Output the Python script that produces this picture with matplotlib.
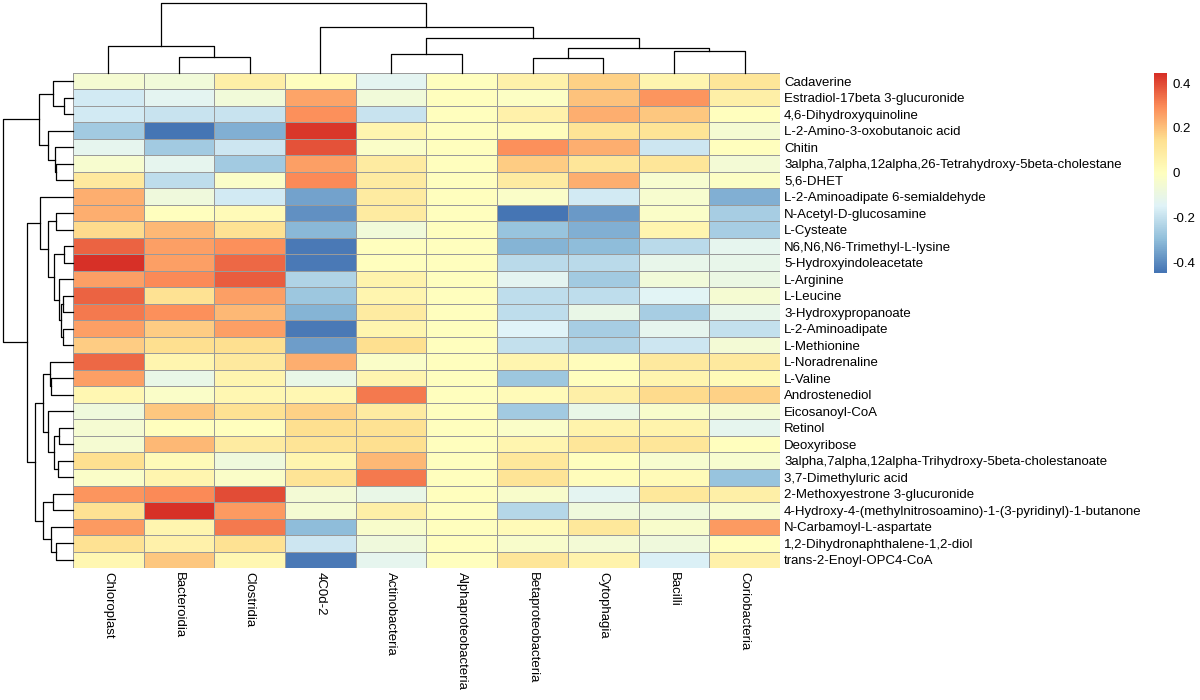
#!/usr/bin/env python3

import numpy as np
import matplotlib
matplotlib.use("Agg")
import matplotlib.pyplot as plt
from matplotlib.colors import LinearSegmentedColormap


# ============================================================
# DATA
# ============================================================
taxa = [
    "Chloroplast", "Bacteroidia", "Clostridia", "4C0d-2", "Actinobacteria",
    "Alphaproteobacteria", "Betaproteobacteria", "Cytophagia", "Bacilli",
    "Coriobacteria",
]

metabolites = [
    "Cadaverine",
    "Estradiol-17beta 3-glucuronide",
    "4,6-Dihydroxyquinoline",
    "L-2-Amino-3-oxobutanoic acid",
    "Chitin",
    "3alpha,7alpha,12alpha,26-Tetrahydroxy-5beta-cholestane",
    "5,6-DHET",
    "L-2-Aminoadipate 6-semialdehyde",
    "N-Acetyl-D-glucosamine",
    "L-Cysteate",
    "N6,N6,N6-Trimethyl-L-lysine",
    "5-Hydroxyindoleacetate",
    "L-Arginine",
    "L-Leucine",
    "3-Hydroxypropanoate",
    "L-2-Aminoadipate",
    "L-Methionine",
    "L-Noradrenaline",
    "L-Valine",
    "Androstenediol",
    "Eicosanoyl-CoA",
    "Retinol",
    "Deoxyribose",
    "3alpha,7alpha,12alpha-Trihydroxy-5beta-cholestanoate",
    "3,7-Dimethyluric acid",
    "2-Methoxyestrone 3-glucuronide",
    "4-Hydroxy-4-(methylnitrosoamino)-1-(3-pyridinyl)-1-butanone",
    "N-Carbamoyl-L-aspartate",
    "1,2-Dihydronaphthalene-1,2-diol",
    "trans-2-Enoyl-OPC4-CoA",
]

# correlation values, one row per metabolite, columns in taxa order
corr = [
    [-0.05, -0.07, 0.08, 0.00, -0.13, 0.00, 0.07, 0.17, 0.05, 0.12],
    [-0.17, -0.13, -0.07, 0.25, -0.07, 0.00, -0.01, 0.20, 0.28, 0.08],
    [-0.17, -0.19, -0.19, 0.29, -0.19, 0.00, 0.07, 0.24, 0.19, 0.00],
    [-0.26, -0.44, -0.33, 0.43, 0.05, 0.00, 0.01, 0.13, 0.13, -0.05],
    [-0.12, -0.26, -0.18, 0.39, -0.02, 0.00, 0.29, 0.24, -0.18, 0.00],
    [-0.04, -0.12, -0.26, 0.26, 0.09, 0.00, 0.18, 0.12, 0.12, -0.06],
    [0.10, -0.21, -0.02, 0.30, 0.09, 0.00, 0.09, 0.24, -0.04, -0.01],
    [0.24, -0.08, -0.17, -0.35, 0.09, 0.00, -0.02, -0.17, -0.04, -0.33],
    [0.24, 0.00, 0.02, -0.39, 0.09, 0.00, -0.44, -0.37, -0.02, -0.25],
    [0.16, 0.22, 0.14, -0.31, -0.07, 0.00, -0.28, -0.33, 0.05, -0.25],
    [0.36, 0.26, 0.29, -0.43, 0.00, 0.00, -0.32, -0.30, -0.22, -0.12],
    [0.445, 0.26, 0.35, -0.43, 0.00, 0.00, -0.22, -0.22, -0.11, -0.11],
    [0.26, 0.30, 0.37, -0.24, 0.06, 0.00, -0.13, -0.26, -0.07, -0.09],
    [0.36, 0.14, 0.26, -0.27, 0.05, 0.00, -0.21, -0.21, -0.14, -0.05],
    [0.33, 0.29, 0.22, -0.32, 0.09, 0.00, -0.21, -0.10, -0.25, -0.11],
    [0.26, 0.18, 0.26, -0.43, 0.05, 0.00, -0.15, -0.25, -0.12, -0.20],
    [0.18, 0.15, 0.15, -0.36, 0.15, 0.00, -0.20, -0.24, -0.18, -0.06],
    [0.35, 0.05, 0.10, 0.24, -0.02, 0.00, 0.05, 0.01, 0.10, 0.10],
    [0.26, -0.10, 0.05, -0.10, 0.05, 0.00, -0.27, 0.00, 0.05, 0.02],
    [0.04, -0.02, 0.04, 0.04, 0.33, 0.00, 0.02, 0.08, 0.16, 0.17],
    [-0.08, 0.19, 0.14, 0.17, 0.09, 0.00, -0.26, -0.10, -0.03, -0.05],
    [-0.05, 0.00, 0.00, 0.15, 0.14, 0.00, -0.02, 0.06, 0.06, -0.12],
    [-0.05, 0.22, 0.09, 0.13, 0.15, 0.00, 0.05, 0.12, 0.12, 0.00],
    [0.15, 0.02, -0.08, 0.05, 0.22, 0.00, 0.11, 0.00, -0.04, -0.04],
    [-0.02, 0.05, -0.02, 0.13, 0.33, 0.00, 0.13, 0.01, 0.02, -0.28],
    [0.28, 0.30, 0.40, -0.06, -0.10, 0.00, -0.03, -0.13, 0.11, 0.08],
    [0.14, 0.445, 0.27, -0.05, 0.08, 0.00, -0.23, -0.08, -0.08, -0.04],
    [0.27, 0.05, 0.33, -0.30, -0.03, 0.00, 0.02, 0.11, -0.03, 0.27],
    [0.14, 0.07, 0.14, -0.18, -0.08, 0.00, -0.03, -0.06, -0.08, 0.00],
    [0.04, 0.19, 0.04, -0.43, -0.12, 0.00, 0.12, 0.06, -0.16, 0.07],
]

# hierarchical merges (left, right, height); leaves are 0..n-1 in display
# order, merged clusters get ids n, n+1, ...
col_merges = [
    (1, 2, 15.7), (0, 10, 27.3), (4, 5, 19.0), (6, 7, 14.7), (8, 9, 21.7),
    (13, 14, 25.3), (12, 15, 34.7), (3, 16, 46.3), (11, 17, 69.7),
]

row_merges = [
    (1, 2, 9.0),      # 30
    (0, 30, 20.0),    # 31
    (5, 6, 16.7),     # 32
    (4, 32, 18.3),    # 33
    (3, 33, 25.0),    # 34
    (31, 34, 34.0),   # 35
    (8, 9, 16.7),     # 36
    (13, 14, 10.0),   # 37
    (15, 16, 10.0),   # 38
    (37, 38, 11.7),   # 39
    (12, 39, 14.0),   # 40
    (10, 11, 9.0),    # 41
    (41, 40, 19.0),   # 42
    (36, 42, 25.0),   # 43
    (7, 43, 33.3),    # 44
    (18, 19, 21.7),   # 45
    (17, 45, 23.3),   # 46
    (21, 22, 14.0),   # 47
    (23, 24, 15.0),   # 48
    (47, 48, 19.0),   # 49
    (20, 49, 25.0),   # 50
    (46, 50, 30.0),   # 51
    (25, 26, 20.0),   # 52
    (28, 29, 17.3),   # 53
    (27, 53, 21.7),   # 54
    (52, 54, 30.0),   # 55
    (51, 55, 38.3),   # 56
    (44, 56, 46.7),   # 57
    (35, 57, 70.0),   # 58
]

palette = ["#4575B4", "#91BFDB", "#E0F3F8", "#FFFFBF", "#FEE090", "#FC8D59", "#D73027"]
cbar_ticks = [-0.4, -0.2, 0.0, 0.2, 0.4]
cbar_labels = ["-0.4", "-0.2", "0", "0.2", "0.4"]


# ============================================================
# DENDROGRAM HELPERS
# ============================================================
def dendro_segments(merges, n_leaves):
    pos = {i: i + 0.5 for i in range(n_leaves)}
    hgt = {i: 0.0 for i in range(n_leaves)}
    segs = []
    for k, (a, b, h) in enumerate(merges):
        node = n_leaves + k
        pa, pb = pos[a], pos[b]
        segs.append(([pa, pa, pb, pb], [hgt[a], h, h, hgt[b]]))
        pos[node] = (pa + pb) / 2.0
        hgt[node] = h
    return segs


def px_rect(fig_w, fig_h, x0, y0, x1, y1):
    # pixel box (top-left origin) -> figure fraction rect
    return [x0 / fig_w, 1 - y1 / fig_h, (x1 - x0) / fig_w, (y1 - y0) / fig_h]


# ============================================================
# PLOT
# ============================================================
def main():
    plt.rcParams["font.family"] = ["Liberation Sans", "DejaVu Sans"]
    W, H = 1200, 700
    fig = plt.figure(figsize=(12, 7), dpi=100)

    data = np.array(corr)
    n_rows, n_cols = data.shape

    hm_left, hm_right, hm_top, hm_bottom = 73, 780, 73, 568
    fs = 9.5

    cmap = LinearSegmentedColormap.from_list("rdylbu", palette, N=100)
    vmin, vmax = -0.446, 0.446

    # heatmap
    ax = fig.add_axes(px_rect(W, H, hm_left, hm_top, hm_right, hm_bottom))
    ax.pcolormesh(np.arange(n_cols + 1), np.arange(n_rows + 1), data,
                  cmap=cmap, vmin=vmin, vmax=vmax,
                  edgecolors="#9a9a9a", linewidth=0.7)
    ax.set_xlim(0, n_cols)
    ax.set_ylim(n_rows, 0)
    for s in ax.spines.values():
        s.set_visible(False)
    ax.yaxis.tick_right()
    ax.set_yticks(np.arange(n_rows) + 0.5)
    ax.set_yticklabels(metabolites, fontsize=fs)
    ax.set_xticks(np.arange(n_cols) + 0.5)
    ax.set_xticklabels(taxa, fontsize=fs, rotation=270, ha="center", va="top")
    ax.tick_params(length=0, pad=3)

    # column dendrogram
    axc = fig.add_axes(px_rect(W, H, hm_left, 3.3, hm_right, hm_top))
    for xs, ys in dendro_segments(col_merges, n_cols):
        axc.plot(xs, ys, color="black", linewidth=0.9, clip_on=False)
    axc.set_xlim(0, n_cols)
    axc.set_ylim(0, max(m[2] for m in col_merges))
    axc.axis("off")

    # row dendrogram
    axr = fig.add_axes(px_rect(W, H, 3.3, hm_top, hm_left, hm_bottom))
    for ys, xs in dendro_segments(row_merges, n_rows):
        axr.plot(xs, ys, color="black", linewidth=0.9, clip_on=False)
    axr.set_ylim(n_rows, 0)
    axr.set_xlim(max(m[2] for m in row_merges), 0)
    axr.axis("off")

    # colour legend
    axb = fig.add_axes(px_rect(W, H, 1154, 72.7, 1167, 272.7))
    grad = np.linspace(vmin, vmax, 100).reshape(-1, 1)
    axb.imshow(grad, cmap=cmap, vmin=vmin, vmax=vmax, aspect="auto",
               origin="lower", extent=[0, 1, vmin, vmax])
    axb.set_xticks([])
    axb.yaxis.tick_right()
    axb.set_yticks(cbar_ticks)
    axb.set_yticklabels(cbar_labels, fontsize=fs)
    axb.tick_params(length=0, pad=4)
    for s in axb.spines.values():
        s.set_visible(False)

    fig.savefig("out.png", dpi=100)


if __name__ == "__main__":
    main()
